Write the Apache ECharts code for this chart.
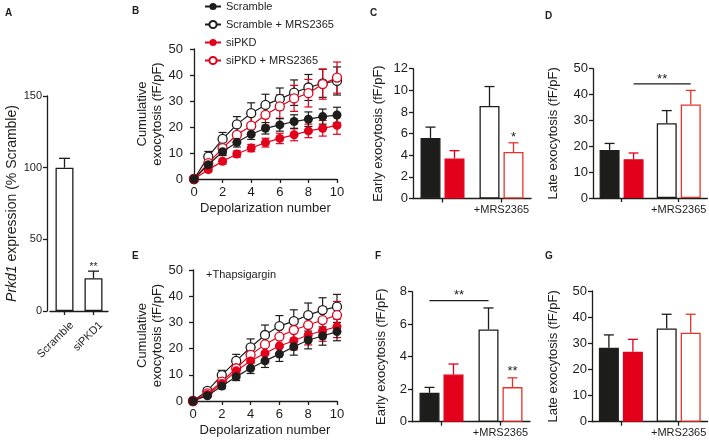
<!DOCTYPE html>
<html><head><meta charset="utf-8">
<script src="https://cdn.jsdelivr.net/npm/echarts@6/dist/echarts.min.js"></script>
<style>html,body{margin:0;padding:0;background:#fff}#c{width:709px;height:440px}</style>
</head><body><div id="c"></div>
<script>
// ================= DATA =================
const seriesNames = ['Scramble', 'Scramble + MRS2365', 'siPKD', 'siPKD + MRS2365'];
const depolNumber = [0, 1, 2, 3, 4, 5, 6, 7, 8, 9, 10];

// Panel A
const A_categories = ['Scramble', 'siPKD1'];
const A_values = [100, 22.8];
const A_err = [6.5, 5];
const A_stars = [{ cats: [1, 1], side: 0, y: 32, text: '**' }];

// Panel B (cumulative exocytosis)
const B_scramble     = [0, 5.5, 10.5, 14.1, 17.2, 19.5, 20.8, 22.1, 23.0, 24.0, 24.6];
const B_scramble_err = [0, 1.2, 1.5, 1.8, 2.0, 2.2, 2.4, 2.6, 2.8, 2.9, 3.0];
const B_scrMRS       = [0, 8.6, 15.4, 21.0, 25.3, 28.5, 30.8, 33.2, 35.2, 36.8, 37.7];
const B_scrMRS_err   = [0, 2.0, 2.5, 3.0, 4.0, 4.1, 4.2, 4.9, 5.0, 5.4, 5.4];
const B_siPKD        = [0, 3.6, 6.8, 9.6, 11.9, 14.0, 15.6, 17.0, 18.5, 19.5, 20.6];
const B_siPKD_err    = [0, 0.8, 1.0, 1.2, 1.4, 1.7, 2.0, 2.3, 2.6, 3.0, 3.4];
const B_siMRS        = [0, 6.1, 11.9, 17.0, 20.5, 24.7, 27.9, 31.0, 33.0, 36.5, 39.0];
const B_siMRS_err    = [0, 1.5, 2.4, 3.0, 3.5, 4.0, 4.5, 5.0, 5.3, 5.8, 6.0];

// Panel E (+Thapsigargin)
const E_scramble     = [0, 2.0, 5.7, 9.3, 12.5, 15.3, 17.9, 20.7, 23.3, 24.8, 26.5];
const E_scramble_err = [0, 0.6, 1.0, 1.5, 2.0, 2.5, 2.8, 3.2, 3.4, 3.5, 3.5];
const E_scrMRS       = [0, 3.9, 9.9, 15.3, 20.5, 25.2, 28.6, 30.5, 32.8, 34.7, 36.0];
const E_scrMRS_err   = [0, 1.0, 1.8, 2.5, 3.2, 3.8, 4.0, 4.3, 4.6, 4.7, 4.7];
const E_siPKD        = [0, 2.5, 6.7, 11.5, 15.3, 18.2, 21.0, 23.0, 25.2, 26.8, 28.4];
const E_siPKD_err    = [0, 0.8, 1.2, 1.8, 2.3, 2.8, 3.2, 3.5, 3.8, 4.0, 4.2];
const E_siMRS        = [0, 2.9, 7.4, 12.5, 17.6, 21.6, 24.6, 27.1, 29.0, 30.9, 32.8];
const E_siMRS_err    = [0, 1.0, 1.5, 2.3, 3.0, 3.5, 4.0, 4.3, 4.6, 5.0, 5.2];
const E_note = '+Thapsigargin';

// Bar panels: group categories
const groups = ['', '+MRS2365'];
// C: early exocytosis
const C_scr = [5.6, 8.55], C_scr_err = [1.0, 1.8];
const C_si  = [3.7, 4.3],  C_si_err  = [0.72, 0.85];
// D: late exocytosis
const D_scr = [18.6, 28.9], D_scr_err = [2.5, 4.9];
const D_si  = [15.0, 36.2], D_si_err  = [2.4, 5.4];
// F: early exocytosis (+Thapsigargin)
const F_scr = [1.78, 5.68], F_scr_err = [0.33, 1.32];
const F_si  = [2.9, 2.13],  F_si_err  = [0.65, 0.57];
// G: late exocytosis (+Thapsigargin)
const G_scr = [28.3, 35.7], G_scr_err = [4.9, 5.4];
const G_si  = [26.8, 34.0], G_si_err  = [4.7, 7.1];

// significance annotations (data coords: category indices, bar side -1/+1, value)
const C_stars = [{ cats: [1, 1], side: 1, y: 5.9, text: '*' }];
const D_brackets = [{ from: [0, 1], to: [1, 1], y: 44.1 }];
const D_stars = [{ cats: [0, 1], side: 1, y: 46.9, text: '**' }];
const F_brackets = [{ from: [0, -1], to: [1, -1], y: 7.45 }];
const F_stars = [{ cats: [0, 1], side: -1, y: 7.95, text: '**' }, { cats: [1, 1], side: 1, y: 3.25, text: '**' }];

// ================= STYLE =================
const FONT = 'Liberation Sans, Arial, sans-serif';
const INK = '#1d1d1b';
const RED = '#e2001a';
const REDOPEN = '#e5352b';
const LW = 1.3;
const BAR_W = 20, BAR_OFF = 12;

const chart = echarts.init(document.getElementById('c'), null, { renderer: 'canvas' });

const grids = [
  { left: 50, top: 96, width: 58, height: 215 },      // 0 A
  { left: 194, top: 49, width: 143, height: 130 },    // 1 B
  { left: 193, top: 270, width: 144, height: 131 },   // 2 E
  { left: 413, top: 68.7, width: 118, height: 129.8 },// 3 C
  { left: 593, top: 68.7, width: 116, height: 129.3 },// 4 D
  { left: 412, top: 291.7, width: 118, height: 130 }, // 5 F
  { left: 592, top: 291, width: 117, height: 130.7 }  // 6 G
];

function axisBase() {
  return {
    axisLine: { show: true, lineStyle: { color: INK, width: LW } },
    axisTick: { show: true, length: 4, lineStyle: { color: INK, width: LW } },
    splitLine: { show: false },
    axisLabel: { color: INK, fontFamily: FONT, fontSize: 13 },
    nameTextStyle: { color: INK, fontFamily: FONT, fontSize: 13 }
  };
}

const xAxes = [], yAxes = [];
// A
xAxes.push(Object.assign(axisBase(), {
  gridIndex: 0, type: 'category', data: A_categories,
  axisTick: { show: true, length: 4, alignWithLabel: true, lineStyle: { color: INK, width: LW } },
  axisLabel: { color: INK, fontFamily: FONT, fontSize: 11, rotate: 45, margin: 5, verticalAlign: 'top', padding: [5, 0, 0, 0] }
}));
yAxes.push(Object.assign(axisBase(), {
  gridIndex: 0, type: 'value', min: 0, max: 150, interval: 50, offset: 3,
  axisLabel: { color: INK, fontFamily: FONT, fontSize: 11, margin: 5 },
  name: '{i|Prkd1} expression (% Scramble)', nameLocation: 'middle', nameGap: 28,
  nameTextStyle: { color: INK, fontFamily: FONT, fontSize: 14,
    rich: { i: { fontStyle: 'italic', fontFamily: FONT, fontSize: 14, color: INK } } }
}));
// B & E
[1, 2].forEach(g => {
  xAxes.push(Object.assign(axisBase(), {
    gridIndex: g, type: 'value', min: 0, max: 10, interval: 2, offset: 3,
    axisLabel: { color: INK, fontFamily: FONT, fontSize: 13, margin: 4 },
    name: 'Depolarization number', nameLocation: 'middle', nameGap: 20,
    nameTextStyle: { color: INK, fontFamily: FONT, fontSize: 13, verticalAlign: 'top' }
  }));
  yAxes.push(Object.assign(axisBase(), {
    gridIndex: g, type: 'value', min: 0, max: 50, interval: 10, offset: g === 1 ? 6 : 5,
    axisLabel: { color: INK, fontFamily: FONT, fontSize: 13, margin: 5 },
    name: 'Cumulative\nexocytosis (fF/pF)', nameLocation: 'middle', nameGap: 21,
    nameTextStyle: { color: INK, fontFamily: FONT, fontSize: 13, lineHeight: 15 }
  }));
});
// C D F G
const barPanels = [
  { g: 3, max: 12, interval: 2, name: 'Early exocytosis (fF/pF)', gap: 28 },
  { g: 4, max: 50, interval: 10, name: 'Late exocytosis (fF/pF)', gap: 33 },
  { g: 5, max: 8, interval: 2, name: 'Early exocytosis (fF/pF)', gap: 24 },
  { g: 6, max: 50, interval: 10, name: 'Late exocytosis (fF/pF)', gap: 32 }
];
barPanels.forEach(p => {
  xAxes.push(Object.assign(axisBase(), {
    gridIndex: p.g, type: 'category', data: groups,
    axisTick: { show: true, length: 4, alignWithLabel: true, lineStyle: { color: INK, width: LW } },
    axisLabel: { color: INK, fontFamily: FONT, fontSize: 11, margin: 6, interval: 0 }
  }));
  yAxes.push(Object.assign(axisBase(), {
    gridIndex: p.g, type: 'value', min: 0, max: p.max, interval: p.interval,
    axisLabel: { color: INK, fontFamily: FONT, fontSize: 13, margin: 5 },
    name: p.name, nameLocation: 'middle', nameGap: p.gap
  }));
});

// ---------- render helpers ----------
function symErr(color, capHalf) {
  return function (params, api) {
    const x = api.value(0), y = api.value(1), e = api.value(2);
    if (!e) return null;
    const hi = api.coord([x, y + e]), lo = api.coord([x, y - e]);
    const st = { stroke: color, lineWidth: 1.2 };
    return { type: 'group', children: [
      { type: 'line', shape: { x1: hi[0], y1: hi[1], x2: lo[0], y2: lo[1] }, style: st },
      { type: 'line', shape: { x1: hi[0] - capHalf, y1: hi[1], x2: hi[0] + capHalf, y2: hi[1] }, style: st },
      { type: 'line', shape: { x1: lo[0] - capHalf, y1: lo[1], x2: lo[0] + capHalf, y2: lo[1] }, style: st }
    ]};
  };
}
function upErr(colors, offset, capHalf) {
  return function (params, api) {
    const c = api.value(0), v = api.value(1), e = api.value(2);
    const base = api.coord([c, v]), top = api.coord([c, v + e]);
    const x = base[0] + offset;
    const st = { stroke: colors[params.dataIndex], lineWidth: LW };
    return { type: 'group', children: [
      { type: 'line', shape: { x1: x, y1: base[1], x2: x, y2: top[1] }, style: st },
      { type: 'line', shape: { x1: x - capHalf, y1: top[1], x2: x + capHalf, y2: top[1] }, style: st }
    ]};
  };
}
function starSeries(g, stars, size) {
  return {
    type: 'custom', xAxisIndex: g, yAxisIndex: g, z: 4,
    data: stars.map(s => [s.cats[0], s.cats[1], s.y]),
    renderItem: (params, api) => {
      const s = stars[params.dataIndex];
      const p1 = api.coord([api.value(0), api.value(2)]);
      const p2 = api.coord([api.value(1), api.value(2)]);
      return { type: 'text', x: (p1[0] + p2[0]) / 2 + s.side * BAR_OFF, y: p1[1] + size * 0.23,
        style: { text: s.text, fontSize: size, fontFamily: FONT, fill: INK, align: 'center', verticalAlign: 'middle' } };
    }
  };
}
function bracketSeries(g, brs) {
  return {
    type: 'custom', xAxisIndex: g, yAxisIndex: g, z: 4,
    data: brs.map(b => [b.from[0], b.to[0], b.y]),
    renderItem: (params, api) => {
      const b = brs[params.dataIndex];
      const p1 = api.coord([api.value(0), api.value(2)]);
      const p2 = api.coord([api.value(1), api.value(2)]);
      return { type: 'line', shape: { x1: p1[0] + b.from[1] * BAR_OFF, y1: p1[1], x2: p2[0] + b.to[1] * BAR_OFF, y2: p2[1] }, style: { stroke: INK, lineWidth: 1.2 } };
    }
  };
}

const series = [];

// A bars
series.push({
  type: 'bar', name: 'A', xAxisIndex: 0, yAxisIndex: 0, barWidth: 18,
  data: A_values.map(v => ({ value: v })),
  itemStyle: { color: '#fff', borderColor: INK, borderWidth: LW }, z: 2
});
series.push({
  type: 'custom', xAxisIndex: 0, yAxisIndex: 0, z: 3,
  data: A_values.map((v, i) => [i, v, A_err[i]]),
  renderItem: upErr([INK, INK], 0, 5.5)
});
series.push(starSeries(0, A_stars, 10));

// Line panels
const lineDefs = [
  { key: 'scrMRS', name: seriesNames[1], color: INK, open: true },
  { key: 'siMRS', name: seriesNames[3], color: RED, open: true },
  { key: 'siPKD', name: seriesNames[2], color: RED, open: false },
  { key: 'scramble', name: seriesNames[0], color: INK, open: false }
];
const lineData = {
  1: { scramble: [B_scramble, B_scramble_err], scrMRS: [B_scrMRS, B_scrMRS_err], siPKD: [B_siPKD, B_siPKD_err], siMRS: [B_siMRS, B_siMRS_err] },
  2: { scramble: [E_scramble, E_scramble_err], scrMRS: [E_scrMRS, E_scrMRS_err], siPKD: [E_siPKD, E_siPKD_err], siMRS: [E_siMRS, E_siMRS_err] }
};
[1, 2].forEach(g => {
  lineDefs.forEach((d, k) => {
    const [vals, errs] = lineData[g][d.key];
    series.push({
      type: 'custom', xAxisIndex: g, yAxisIndex: g, z: 1 + k * 0.01,
      data: depolNumber.map((x, i) => [x, vals[i], errs[i]]),
      renderItem: symErr(d.color, 4)
    });
  });
  lineDefs.forEach((d, k) => {
    const [vals] = lineData[g][d.key];
    series.push({
      type: 'line', name: d.name, xAxisIndex: g, yAxisIndex: g, z: 5 + k,
      data: depolNumber.map((x, i) => [x, vals[i]]),
      symbol: 'circle', symbolSize: 9, showSymbol: true,
      lineStyle: { color: d.color, width: 1.2 },
      itemStyle: { color: d.open ? '#fff' : d.color, borderColor: d.color, borderWidth: d.open ? 1.3 : 0 },
      emphasis: { disabled: true }
    });
  });
});

// Bar panels
const barData = {
  3: { scr: [C_scr, C_scr_err], si: [C_si, C_si_err] },
  4: { scr: [D_scr, D_scr_err], si: [D_si, D_si_err] },
  5: { scr: [F_scr, F_scr_err], si: [F_si, F_si_err] },
  6: { scr: [G_scr, G_scr_err], si: [G_si, G_si_err] }
};
const scrStyles = [{ color: INK, borderColor: INK, borderWidth: LW }, { color: '#fff', borderColor: INK, borderWidth: LW }];
const siStyles = [{ color: RED, borderColor: RED, borderWidth: LW }, { color: '#fff', borderColor: REDOPEN, borderWidth: LW }];
[3, 4, 5, 6].forEach(g => {
  const d = barData[g];
  series.push({
    type: 'bar', name: 'scr' + g, xAxisIndex: g, yAxisIndex: g, barWidth: BAR_W, barGap: '20%', z: 2,
    data: d.scr[0].map((v, i) => ({ value: v, itemStyle: scrStyles[i] }))
  });
  series.push({
    type: 'bar', name: 'si' + g, xAxisIndex: g, yAxisIndex: g, barWidth: BAR_W, barGap: '20%', z: 2,
    data: d.si[0].map((v, i) => ({ value: v, itemStyle: siStyles[i] }))
  });
  series.push({
    type: 'custom', xAxisIndex: g, yAxisIndex: g, z: 3,
    data: d.scr[0].map((v, i) => [i, v, d.scr[1][i]]),
    renderItem: upErr([INK, INK], -BAR_OFF, 5)
  });
  series.push({
    type: 'custom', xAxisIndex: g, yAxisIndex: g, z: 3,
    data: d.si[0].map((v, i) => [i, v, d.si[1][i]]),
    renderItem: upErr([RED, REDOPEN], BAR_OFF, 5)
  });
});

series.push(starSeries(3, C_stars, 13));
series.push(bracketSeries(4, D_brackets));
series.push(starSeries(4, D_stars, 13));
series.push(bracketSeries(5, F_brackets));
series.push(starSeries(5, F_stars, 13));

const letter = (t, x, y) => ({ type: 'text', left: x, top: y, style: { text: t, font: 'bold 10px ' + FONT, fill: INK } });

const option = {
  animation: false,
  backgroundColor: '#fff',
  grid: grids.map(g => Object.assign({ containLabel: false }, g)),
  xAxis: xAxes,
  yAxis: yAxes,
  legend: {
    data: seriesNames, orient: 'vertical', left: 204, top: 1, padding: 0,
    itemWidth: 16, itemHeight: 9, itemGap: 7,
    textStyle: { color: INK, fontFamily: FONT, fontSize: 11 },
    selectedMode: false
  },
  graphic: [
    letter('A', 5, 8), letter('B', 132, 6), letter('C', 370, 8), letter('D', 545, 11),
    letter('E', 132, 251), letter('F', 375, 251), letter('G', 545, 251),
    { type: 'text', left: 206, top: 269, style: { text: E_note, fontSize: 11, fontFamily: FONT, fill: INK } }
  ],
  series: series
};
chart.setOption(option);
</script>
</body></html>
